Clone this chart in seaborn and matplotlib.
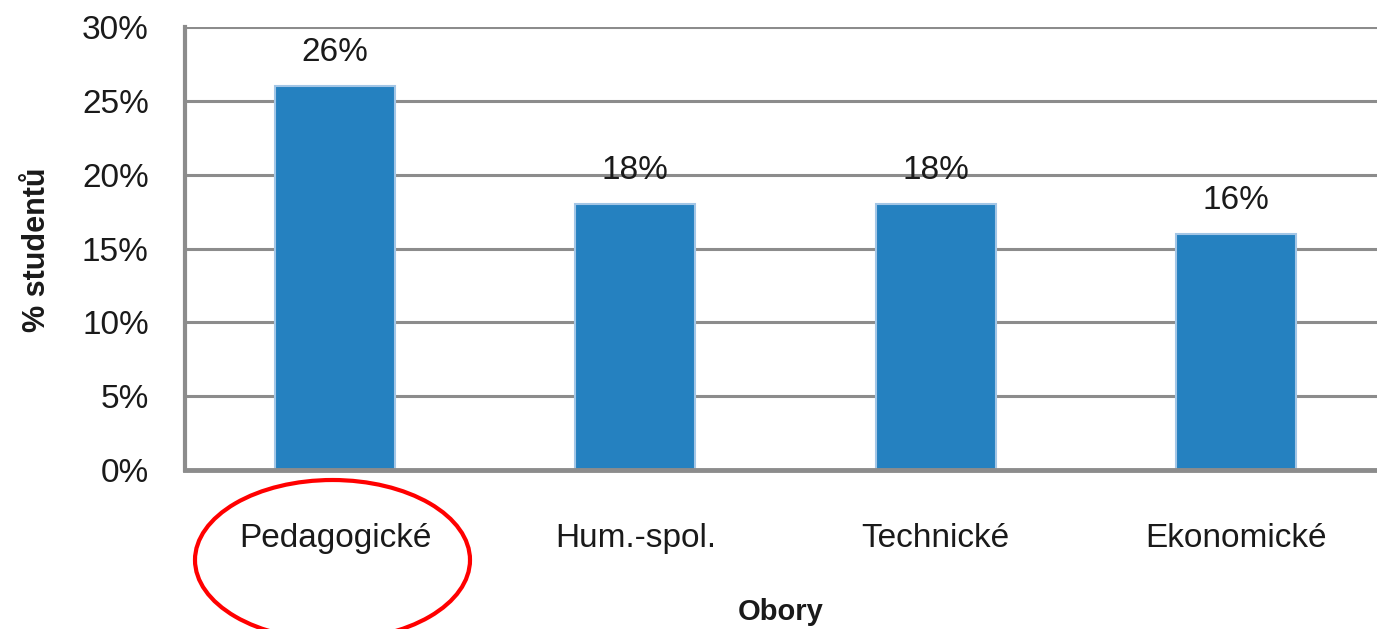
import pandas as pd
import seaborn as sns
import matplotlib.pyplot as plt
from matplotlib.patches import Ellipse
from matplotlib.ticker import PercentFormatter

# data
obory = ["Pedagogické", "Hum.-spol.", "Technické", "Ekonomické"]
podil = [26, 18, 18, 16]  # % studentů

df = pd.DataFrame({"obor": obory, "podil": podil})

sns.set_style("white")
plt.rcParams["font.family"] = ["Liberation Sans", "DejaVu Sans"]

fig = plt.figure(figsize=(13.77, 6.29), dpi=100)
ax = fig.add_axes([0.1343, 0.2528, 0.8657, 0.7042])

sns.barplot(data=df, x="obor", y="podil", color="#2581C0", width=0.4,
            saturation=1, edgecolor="#a3c6e6", linewidth=1.5, ax=ax, zorder=3)

ax.set_ylim(0, 30)
ax.set_xlim(-0.5, 3.47)
ax.set_yticks(range(0, 31, 5))
ax.yaxis.set_major_formatter(PercentFormatter(decimals=0))
ax.grid(axis="y", color="#8c8c8c", linewidth=2.2, zorder=0)
ax.set_axisbelow(True)

for s in ["top", "right"]:
    ax.spines[s].set_visible(False)
ax.spines["left"].set_color("#8c8c8c")
ax.spines["left"].set_linewidth(3)
ax.spines["bottom"].set_color("#8c8c8c")
ax.spines["bottom"].set_linewidth(3.5)
ax.spines["bottom"].set_zorder(4)

ax.tick_params(axis="y", length=9, width=2, color="#c8c8c8", pad=17,
               labelsize=24, labelcolor="#1a1a1a")
ax.tick_params(axis="x", length=0, pad=38, labelsize=24, labelcolor="#1a1a1a")

# value labels above bars
for i, v in enumerate(podil):
    ax.annotate(f"{v}%", (i, v), xytext=(0, 13), textcoords="offset points",
                ha="center", va="bottom", fontsize=24, color="#1a1a1a")

ax.set_xlabel("Obory", fontsize=21, fontweight="bold", color="#1a1a1a")
ax.xaxis.set_label_coords(0.5, -0.32)
ax.xaxis.label.set_va("center")
ax.set_ylabel("% studentů", fontsize=22, fontweight="bold", color="#1a1a1a")
ax.yaxis.set_label_coords(-0.124, 0.497)
ax.yaxis.label.set_va("center")

# red ellipse highlighting the first category
fig.patches.append(Ellipse((332.5 / 1377, 1 - 560 / 629), 275 / 1377, 160 / 629,
                           transform=fig.transFigure, fill=False,
                           edgecolor="#ff0000", linewidth=3))

fig.savefig("out.png", dpi=100)
